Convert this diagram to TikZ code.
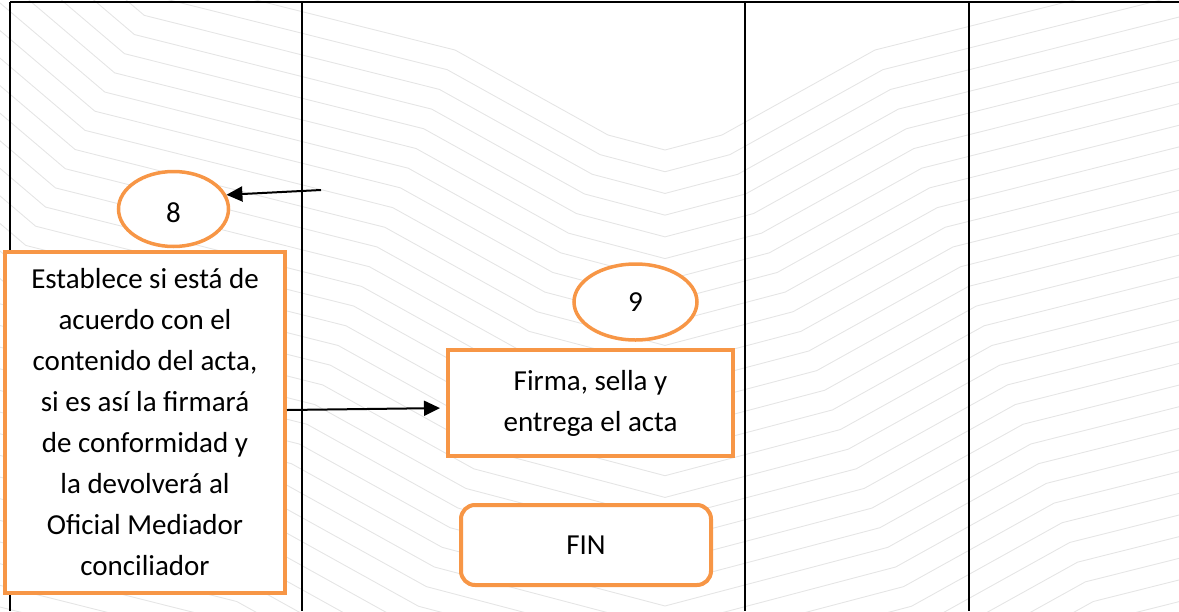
\documentclass[tikz,border=0pt]{standalone}
\usepackage{fontspec}
\setmainfont{Carlito}
\usetikzlibrary{shapes.geometric,arrows.meta,calc}
\definecolor{accent}{HTML}{F79646}
\begin{document}
\begin{tikzpicture}[x=1pt,y=-1pt,
  wm/.style={black!10, line width=0.9pt, line join=round},
  rule/.style={black, line width=1.6pt},
  oval/.style={ellipse, draw=accent, fill=white, line width=3.5pt, inner sep=0pt},
  stepbox/.style={rectangle, draw=accent, fill=white, line width=4pt, align=center, inner sep=0pt},
  endbox/.style={stepbox, rounded corners=14pt},
  flow/.style={-{Triangle[length=16pt,width=15pt]}, line width=2pt, black},
  font=\fontsize{29}{41}\selectfont]

\useasboundingbox (0,0) rectangle (1179,611);

% faint nested contour pattern in the background (parallel offsets of one outline)
\begin{scope}
  \clip (0,0) rectangle (1179,611);
  \foreach \k in {0,...,32} {
    \pgfmathsetmacro\d{21*\k}
    \draw[wm]
      ({-136-0.648*\d},{-278+0.762*\d}) -- ({164-0.470*\d},{-23+0.913*\d})
      -- ({455-0.371*\d},{50+0.938*\d}) -- ({608-0.376*\d},{135+0.935*\d})
      -- (665,{150+1.034*\d})
      -- ({722+0.376*\d},{135+0.935*\d}) -- ({875+0.371*\d},{50+0.938*\d})
      -- ({1166+0.470*\d},{-23+0.913*\d}) -- ({1466+0.648*\d},{-278+0.762*\d});
  }
\end{scope}

% table rules
\draw[rule, line width=2.2pt] (10,2) -- (1179,2);
\foreach \x in {10,302,745,969} \draw[rule] (\x,2) -- (\x,611);

% flow elements
\node[oval, minimum width=110pt, minimum height=75pt, text height=26pt, text depth=0pt] (e8) at (173.5,209) {8};
\node[stepbox, minimum width=280pt, minimum height=341pt] (b8) at (145,422.5)
  {Establece si está de\\acuerdo con el\\contenido del acta,\\si es así la firmará\\de conformidad y\\la devolverá al\\Oficial Mediador\\conciliador};
\node[oval, minimum width=123pt, minimum height=76pt] (e9) at (635.5,302) {9};
\node[stepbox, minimum width=285pt, minimum height=106pt] (b9) at (590.5,403)
  {Firma, sella y\\entrega el acta};
\node[endbox, minimum width=250pt, minimum height=80pt] (fin) at (586,545) {FIN};

% connectors
\coordinate (src8) at (321,190);
\draw[flow] (src8) -- (e8.15);
\draw[flow, shorten >=6pt] ([yshift=12.5pt]b8.east) -- ([yshift=-5pt]b9.west);
\end{tikzpicture}
\end{document}
